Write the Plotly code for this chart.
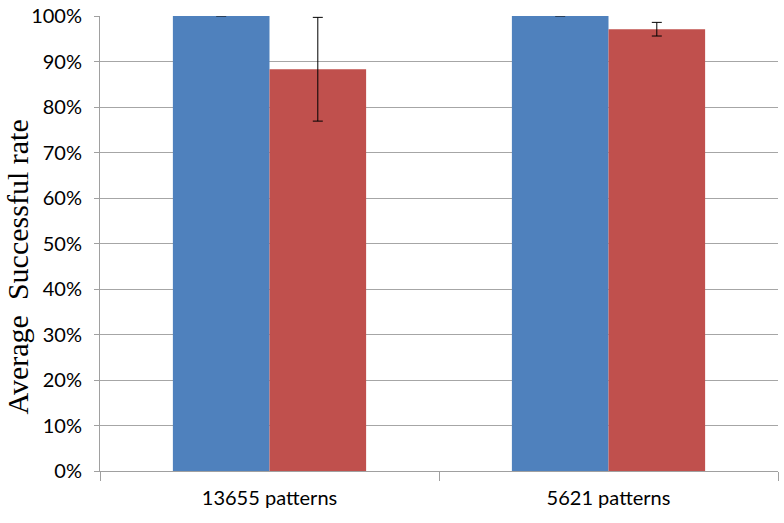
import plotly.graph_objects as go

categories = ["13655 patterns", "5621 patterns"]
blue_values = [100.0, 100.0]
blue_errors = [0.0, 0.0]
red_values = [88.3, 97.1]
red_errors = [11.4, 1.5]
y_ticks = [0, 10, 20, 30, 40, 50, 60, 70, 80, 90, 100]
y_tick_labels = [f"{v}%" for v in y_ticks]

label_font = dict(family="Lato, Open Sans, sans-serif", size=20, color="#000000")

fig = go.Figure()
fig.add_trace(go.Bar(
    x=categories, y=blue_values, marker=dict(color="#4F81BD", line=dict(width=0)),
    error_y=dict(type="data", array=blue_errors, color="#000000", thickness=1.2, width=5),
    showlegend=False, hoverinfo="skip",
))
fig.add_trace(go.Bar(
    x=categories, y=red_values, marker=dict(color="#C0504D", line=dict(width=0)),
    error_y=dict(type="data", array=red_errors, color="#000000", thickness=1, width=5),
    showlegend=False, hoverinfo="skip",
))

fig.update_layout(
    width=784, height=523,
    margin=dict(l=100, r=6, t=16, b=52, autoexpand=False),
    paper_bgcolor="#FFFFFF", plot_bgcolor="#FFFFFF",
    barmode="group", bargap=0.43, bargroupgap=0,
    xaxis=dict(
        type="category", range=[-0.5, 1.5], automargin=False,
        showline=True, linecolor="#A0A0A0", linewidth=1,
        ticks="outside", tickson="boundaries", ticklen=9, tickcolor="#A0A0A0",
        tickfont=label_font, showgrid=False, ticklabelstandoff=9,
    ),
    yaxis=dict(
        range=[0, 100], tickvals=y_ticks, ticktext=y_tick_labels, automargin=False,
        showline=True, linecolor="#A0A0A0", linewidth=1,
        ticks="outside", ticklen=5, tickcolor="#A0A0A0",
        showgrid=True, gridcolor="#A6A6A6", gridwidth=1,
        tickfont=label_font, ticklabelstandoff=8, zeroline=False,
        ticklabeloverflow="allow",
    ),
    annotations=[dict(
        text="Average  Successful rate", textangle=-90,
        x=-0.122, xref="paper", xanchor="center",
        y=0.448, yref="paper", yanchor="middle", showarrow=False,
        font=dict(family="Liberation Serif, Times New Roman, serif", size=30, color="#000000"),
    )],
)
fig.write_html(
    "out.html",
    config={"displayModeBar": False},
    post_script="document.body.style.margin='0px';",
)
